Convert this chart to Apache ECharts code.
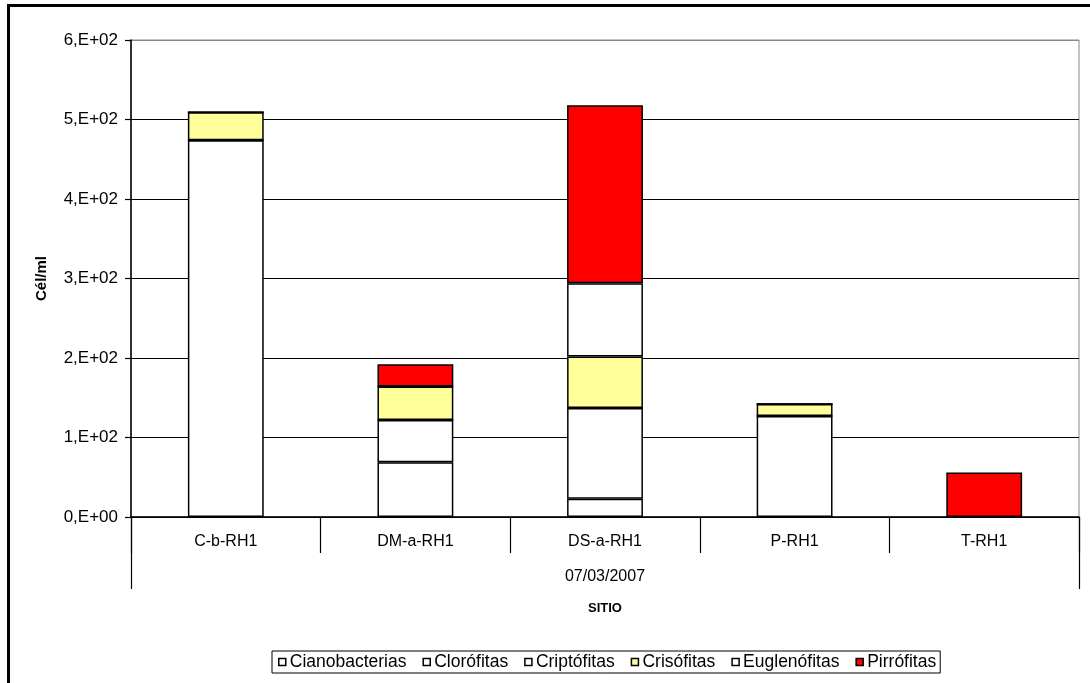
<!DOCTYPE html>
<html>
<head>
<meta charset="utf-8">
<script src="https://cdn.jsdelivr.net/npm/echarts@6/dist/echarts.min.js"></script>
<style>
  html, body { margin: 0; padding: 0; background: #fff; }
  #chart { width: 1090px; height: 683px; }
</style>
</head>
<body>
<div id="chart"></div>
<script>
// Sampling sites and survey date
const sites = ['C-b-RH1', 'DM-a-RH1', 'DS-a-RH1', 'P-RH1', 'T-RH1'];
const sampleDate = ['07/03/2007'];

// Cell density (cél/ml) per algal group, one value per site
const cianobacterias = [0, 69, 23, 0, 0];
const clorofitas     = [474, 53, 114, 127, 0];
const criptofitas    = [0, 0, 0, 0, 0];
const crisofitas     = [35, 42, 65, 15, 0];
const euglenofitas   = [0, 0, 92, 0, 0];
const pirrofitas     = [0, 28, 224, 0, 56];

// Value axis tick labels (scientific notation, comma decimal)
const yTickLabels = ['0,E+00', '1,E+02', '2,E+02', '3,E+02', '4,E+02', '5,E+02', '6,E+02'];

const FONT = "'Liberation Sans', Arial, sans-serif";

const groups = [
  { name: 'Cianobacterias', data: cianobacterias, color: '#FFFFFF' },
  { name: 'Clorófitas',     data: clorofitas,     color: '#FFFFFF' },
  { name: 'Criptófitas',    data: criptofitas,    color: '#FFFFFF' },
  { name: 'Crisófitas',     data: crisofitas,     color: '#FFFF99' },
  { name: 'Euglenófitas',   data: euglenofitas,   color: '#FFFFFF' },
  { name: 'Pirrófitas',     data: pirrofitas,     color: '#FF0000' }
];

const chart = echarts.init(document.getElementById('chart'), null, { renderer: 'canvas' });

chart.setOption({
  backgroundColor: '#fff',
  animation: false,
  textStyle: { fontFamily: FONT, color: '#000' },
  graphic: [{
    type: 'rect',
    shape: { x: 8.5, y: 5.5, width: 1200, height: 800 },
    style: { fill: 'none', stroke: '#000', lineWidth: 3 },
    silent: true,
    z: 100
  }],
  grid: {
    left: 131, right: 11, top: 40, bottom: 166,
    show: true, borderColor: '#888', borderWidth: 1, backgroundColor: 'transparent'
  },
  legend: {
    left: 272, top: 651,
    orient: 'horizontal',
    icon: 'rect',
    itemWidth: 7, itemHeight: 7,
    itemGap: 16,
    padding: [2, 4, 2, 6],
    borderColor: '#000', borderWidth: 1,
    textStyle: { fontFamily: FONT, fontSize: 17.5, color: '#000', padding: [0, 0, 0, -1] },
    itemStyle: { borderColor: '#000', borderWidth: 1.5 },
    data: groups.map(g => g.name)
  },
  xAxis: [
    {
      type: 'category',
      data: sites,
      position: 'bottom',
      axisLine: { show: true, lineStyle: { color: '#000', width: 1.5 } },
      axisTick: { show: true, length: 36, interval: 0, lineStyle: { color: '#000', width: 1.2 } },
      axisLabel: { fontFamily: FONT, fontSize: 16, color: '#000', margin: 17, interval: 0 },
      splitLine: { show: false }
    },
    {
      type: 'category',
      data: sampleDate,
      position: 'bottom',
      axisLine: { show: false },
      axisTick: { show: true, length: 72, lineStyle: { color: '#000', width: 1.2 } },
      axisLabel: { fontFamily: FONT, fontSize: 16, color: '#000', margin: 52 },
      splitLine: { show: false },
      name: 'SITIO',
      nameLocation: 'middle',
      nameGap: 85,
      nameTextStyle: { fontFamily: FONT, fontSize: 13, fontWeight: 'bold', color: '#000' }
    }
  ],
  yAxis: {
    type: 'value',
    min: 0, max: 600, interval: 100,
    name: 'Cél/ml',
    nameLocation: 'middle',
    nameRotate: 90,
    nameGap: 82,
    nameTextStyle: { fontFamily: FONT, fontSize: 15, fontWeight: 'bold', color: '#000' },
    axisLine: { show: true, lineStyle: { color: '#000', width: 1.5 } },
    axisTick: { show: true, length: 6, lineStyle: { color: '#000', width: 1.2 } },
    axisLabel: {
      fontFamily: FONT, fontSize: 17, color: '#000', margin: 13,
      formatter: v => yTickLabels[Math.round(v / 100)]
    },
    splitLine: {
      show: true,
      lineStyle: { color: ['#000', '#000', '#000', '#000', '#000', '#000', '#888'], width: 1.2 }
    }
  },
  series: groups.map(g => ({
    name: g.name,
    type: 'bar',
    stack: 'total',
    xAxisIndex: 0,
    barWidth: '40%',
    data: g.data,
    itemStyle: { color: g.color, borderColor: '#000', borderWidth: 1.5 },
    emphasis: { disabled: true }
  }))
});
</script>
</body>
</html>
